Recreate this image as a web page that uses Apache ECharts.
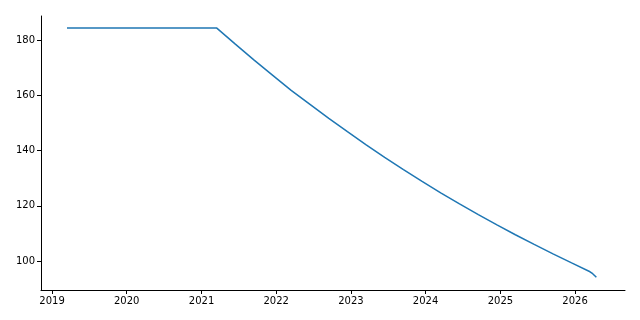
<!DOCTYPE html>
<html>
<head>
<meta charset="utf-8">
<script src="https://cdn.jsdelivr.net/npm/echarts@6/dist/echarts.min.js"></script>
<style>
html,body{margin:0;padding:0;background:#fff;}
#c{width:640px;height:320px;}
</style>
</head>
<body>
<div id="c"></div>
<script>
// Dates (x) and values (y)
var dates = [
  '2019-03-15','2019-09-15','2020-03-15','2020-09-15','2021-03-15',
  '2021-06-15','2021-09-15','2021-12-15','2022-03-15','2022-06-15',
  '2022-09-15','2022-12-15','2023-03-15','2023-06-15','2023-09-15',
  '2023-12-15','2024-03-15','2024-06-15','2024-09-15','2024-12-15',
  '2025-03-15','2025-06-15','2025-09-15','2025-12-15','2026-03-15',
  '2026-03-28','2026-04-15'
];
var values = [
  184.4, 184.4, 184.4, 184.4, 184.4,
  178.5, 172.7, 167.2, 161.8, 156.7,
  151.6, 146.8, 142.1, 137.5, 133.1,
  128.8, 124.7, 120.7, 116.8, 113.1,
  109.5, 106.0, 102.6, 99.3, 96.1,
  95.4, 94.1
];
var yTicks = [100, 120, 140, 160, 180];
var xTickYears = [2019, 2020, 2021, 2022, 2023, 2024, 2025, 2026];

function ts(s) {
  var p = s.split('-');
  return Date.UTC(+p[0], +p[1] - 1, +p[2]);
}
var xTicks = xTickYears.map(function (y) { return Date.UTC(y, 0, 1); });
var seriesData = dates.map(function (d, i) { return [ts(d), values[i]]; });

var chart = echarts.init(document.getElementById('c'), null, {renderer: 'canvas'});
var axisFont = {fontFamily: 'DejaVu Sans', fontSize: 10, color: '#000'};
chart.setOption({
  animation: false,
  backgroundColor: '#fff',
  grid: {left: 41, right: 15, top: 16, bottom: 30, containLabel: false},
  xAxis: {
    type: 'value',
    min: ts('2018-11-08'),
    max: ts('2026-09-02'),
    axisLine: {show: true, onZero: false, lineStyle: {color: '#000', width: 1}},
    axisTick: {show: true, length: 4, lineStyle: {color: '#000', width: 1}, customValues: xTicks},
    axisLabel: Object.assign({margin: 6, customValues: xTicks,
      formatter: function (v) { return String(new Date(v).getUTCFullYear()); }}, axisFont),
    splitLine: {show: false}
  },
  yAxis: {
    type: 'value',
    min: 89.5,
    max: 188.7,
    axisLine: {show: true, onZero: false, lineStyle: {color: '#000', width: 1}},
    axisTick: {show: true, length: 4, lineStyle: {color: '#000', width: 1}, customValues: yTicks},
    axisLabel: Object.assign({margin: 6, customValues: yTicks}, axisFont),
    splitLine: {show: false}
  },
  series: [{
    type: 'line',
    data: seriesData,
    showSymbol: false,
    symbol: 'none',
    smooth: false,
    lineStyle: {color: '#1f77b4', width: 1.5},
    itemStyle: {color: '#1f77b4'}
  }]
});
</script>
</body>
</html>
